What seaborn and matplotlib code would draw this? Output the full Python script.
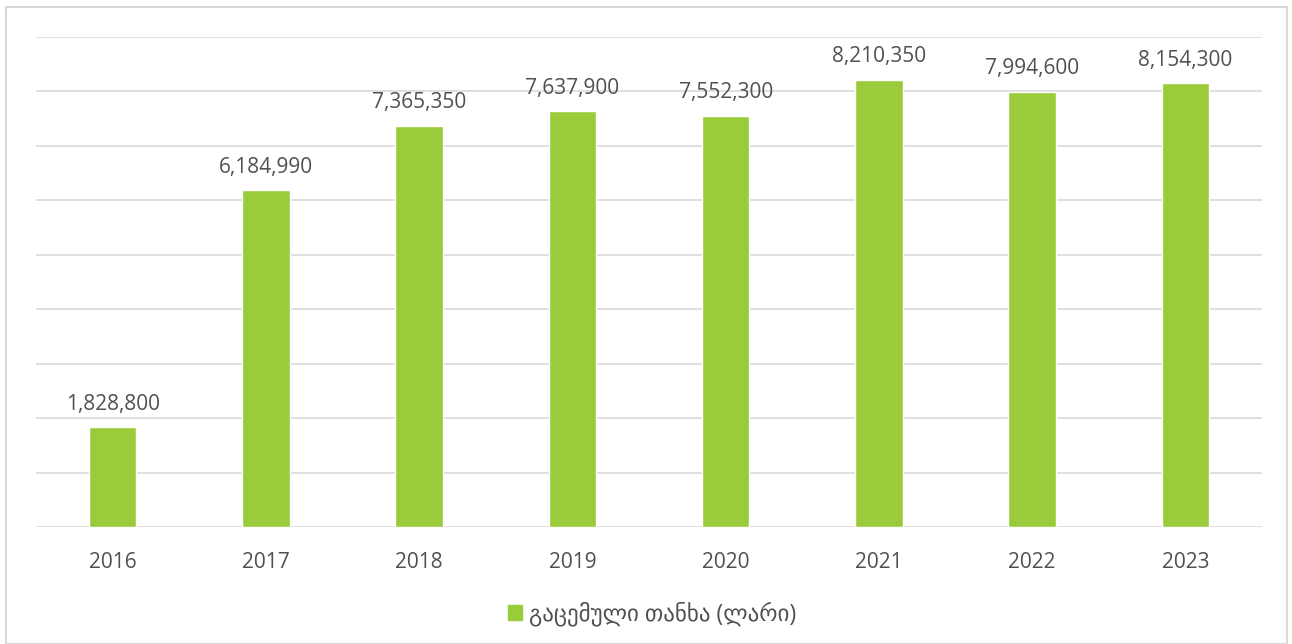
import matplotlib
matplotlib.use("Agg")
import matplotlib.pyplot as plt
import seaborn as sns
import pandas as pd
from matplotlib.patches import Rectangle

# ---------------- DATA ----------------
years = ["2016", "2017", "2018", "2019", "2020", "2021", "2022", "2023"]
amounts = [1828800, 6184990, 7365350, 7637900, 7552300, 8210350, 7994600, 8154300]
legend_label = "გაცემული თანხა (ლარი)"

df = pd.DataFrame({"year": years, "amount": amounts})

# ---------------- STYLE ----------------
sns.set_theme(style="white")
plt.rcParams["font.family"] = ["Open Sans", "DejaVu Sans"]
text_color = "#505050"
bar_color = "#9ACB3A"
grid_color = "#D9D9D9"

fig = plt.figure(figsize=(12.92, 6.44), dpi=100)
ax = fig.add_axes([36 / 1292, 1 - 527 / 644, (1262 - 36) / 1292, (527 - 37) / 644])

sns.barplot(data=df, x="year", y="amount", color=bar_color, width=0.31,
            saturation=1, ax=ax, zorder=3)

ax.set_ylim(0, 9000000)
ax.set_yticks(range(0, 9000001, 1000000))
ax.yaxis.grid(True, color=grid_color, linewidth=1.2, zorder=0)
ax.set_axisbelow(True)
ax.set_yticklabels([])
ax.tick_params(axis="y", length=0)
ax.tick_params(axis="x", length=0, labelsize=15, colors=text_color, pad=18)
ax.set_xlabel("")
ax.set_ylabel("")
for s in ax.spines.values():
    s.set_visible(False)

# ---------------- LABELS ----------------
for c in ax.containers:
    ax.bar_label(c, labels=[f"{v:,.0f}" for v in amounts], padding=9,
                 fontsize=15, color=text_color)

# ---------------- LEGEND ----------------
handle = Rectangle((0, 0), 1, 1, color=bar_color)
fig.legend([handle], [legend_label], loc="center", bbox_to_anchor=(652 / 1292, 1 - 614 / 644),
           frameon=False, fontsize=16.5, labelcolor=text_color,
           handlelength=0.6, handleheight=0.6, handletextpad=0.3)

# ---------------- FRAME ----------------
fig.patches.append(Rectangle((6 / 1292, 0.0), 1281 / 1292, 1 - 7 / 644,
                             transform=fig.transFigure, fill=False,
                             edgecolor="#D9D9D9", linewidth=1.5))

fig.savefig("out.png", dpi=100, facecolor="white")
